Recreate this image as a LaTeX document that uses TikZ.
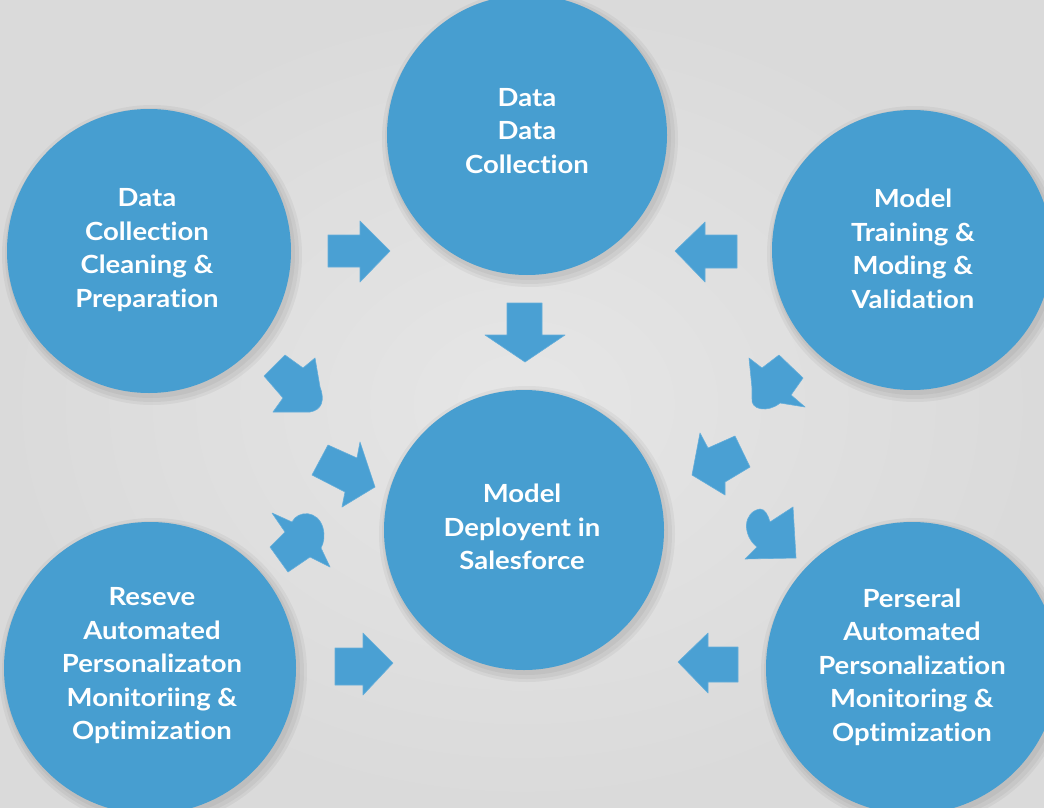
\documentclass[tikz,border=0pt]{standalone}
\usepackage{fontspec}
\newfontfamily\lato[FakeStretch=1.1, Ligatures=NoCommon]{Lato}
\definecolor{bgin}{HTML}{E6E6E6}
\definecolor{bgout}{HTML}{DADADA}
\definecolor{bub}{HTML}{479ED0}
\definecolor{arr}{HTML}{4AA0D3}
\tikzset{
  bubble/.style={circle, fill=bub, inner sep=0pt, minimum size=#1},
  btext/.style={align=center, text=white, font=\lato\bfseries\fontsize{25}{33.5}\selectfont, inner sep=0pt},
  blockarrow/.style={fill=arr, draw=arr!85!white, line width=0.6pt, line join=round},
  halo/.style={fill=black, opacity=0.045}
}
\begin{document}
\begin{tikzpicture}[x=1pt,y=-1pt]
\useasboundingbox (0,0) rectangle (1044,808);
\shade[inner color=bgin, outer color=bgout] (0,0) rectangle (1044,808);
\begin{scope}
\clip (0,0) rectangle (1044,808);
% soft shadows
\foreach \cx/\cy/\r in {527/135/140, 149/251/142, 912/250/140, 524/530/140, 150/668/146, 912/668/146}{
  \fill[halo] (\cx+3,\cy+4) circle (\r+8);
  \fill[halo] (\cx+3,\cy+4) circle (\r+5);
  \fill[halo] (\cx+2,\cy+3) circle (\r+2);
}
% circles
\node[bubble=280pt] (top) at (527,135) {};
\node[bubble=284pt] (left) at (149,251) {};
\node[bubble=280pt] (right) at (912,250) {};
\node[bubble=280pt] (center) at (524,530) {};
\node[bubble=292pt] (bl) at (150,668) {};
\node[bubble=292pt] (br) at (912,668) {};
\end{scope}
% texts
\node[btext] (toptext) at (527,131) {Data\\Data\\Collection};
\node[btext] (lefttext) at (147,250) {Data\\Collection\\Cleaning \&\\Preparation};
\node[btext] (righttext) at (913,249) {Model\\Training \&\\Moding \&\\Validation};
\node[btext] (centertext) at (522,527) {Model\\Deployent in\\Salesforce};
\node[btext] (bltext) at (152,666) {Reseve\\Automated\\Personalizaton\\Monitoriing \&\\Optimization};
\node[btext] (brtext) at (912,667) {Perseral\\Automated\\Personalization\\Monitoring \&\\Optimization};
% straight block arrows
\fill[blockarrow] (328,235) -- (360,235) -- (360,221) -- (390,251) -- (360,282) -- (360,267) -- (328,267) -- cycle;
\fill[blockarrow] (737,235) -- (705,235) -- (705,222) -- (675,251) -- (705,282) -- (705,268) -- (737,268) -- cycle;
\fill[blockarrow] (507,303) -- (542,303) -- (542,335) -- (565,335) -- (525,362) -- (485,335) -- (507,335) -- cycle;
\fill[blockarrow] (335,648) -- (363,648) -- (363,633) -- (393,663) -- (363,695) -- (363,685) -- (335,685) -- cycle;
\fill[blockarrow] (738,647) -- (708,647) -- (708,633) -- (678,662) -- (708,693) -- (708,682) -- (738,682) -- cycle;
% diagonal block arrows
\fill[blockarrow] (264,376) -- (285,355) -- (303,368) -- (315,358) -- (320,387) .. controls (325,400) and (322,410) .. (310,412) -- (273,412) -- (283,398) -- cycle;
\fill[blockarrow] (312,475) -- (328,445) -- (357,458) -- (360,442) -- (375,487) -- (342,507) -- (345,492) -- cycle;
\fill[blockarrow] (272,513) -- (292,522) .. controls (298,510) and (318,510) .. (323,528) .. controls (325,536) and (324,542) .. (321,548) -- (330,567) -- (310,557) -- (288,572) -- (270,547) -- (285,532) -- cycle;
\fill[blockarrow] (749,358) -- (762,368) -- (779,355) -- (803,378) -- (791,395) -- (805,407) -- (780,403) .. controls (768,413) and (750,410) .. (752,398) -- (752,388) -- cycle;
\fill[blockarrow] (700,433) -- (708,448) -- (735,436) -- (750,467) -- (725,482) -- (725,495) -- (692,475) -- cycle;
\fill[blockarrow] (793,507) -- (796,558) -- (745,559) -- (757,547) .. controls (742,535) and (743,512) .. (760,509) .. controls (765,509) and (768,515) .. (770,522) -- cycle;
\end{tikzpicture}
\end{document}
